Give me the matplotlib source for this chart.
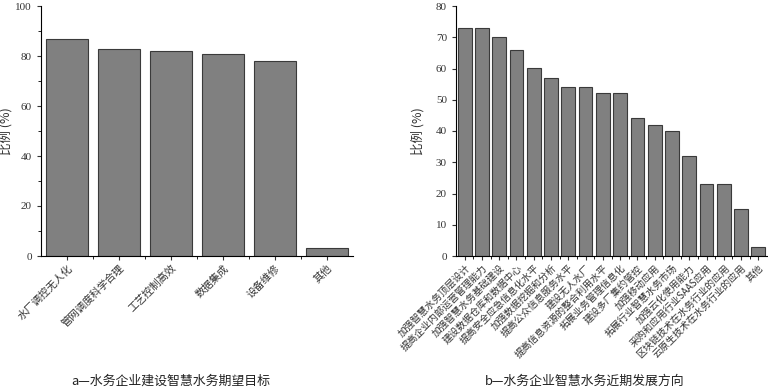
import matplotlib.pyplot as plt
import numpy as np
from matplotlib.ticker import MultipleLocator

plt.rcParams['font.family'] = ['Liberation Serif', 'Noto Sans CJK SC', 'DejaVu Sans']

# data
labels_a = ["水厂调控无人化", "管网调度科学合理", "工艺控制高效", "数据集成", "设备维修", "其他"]
values_a = [87, 83, 82, 81, 78, 3]

labels_b = ["加强智慧水务顶层设计", "提高企业内部运营管理能力", "加强智慧水务基础建设",
            "建设数据仓库和数据中心", "提高安全应急信息化水平", "加强数据挖掘和分析",
            "提高公众信息服务水平", "建设无人水厂", "提高信息资源的整合利用水平",
            "拓展业务管理信息化", "建设多厂集约管控", "加强移动应用",
            "拓展行业智慧水务市场", "加强云化使用能力", "采购和应用行业SAAS应用",
            "区块链技术在水务行业的应用", "云原生技术在水务行业的应用", "其他"]
values_b = [73, 73, 70, 66, 60, 57, 54, 54, 52, 52, 44, 42, 40, 32, 23, 23, 15, 3]

fig = plt.figure(figsize=(7.68, 3.92), dpi=100)
ax1 = fig.add_axes([41/768, 1-256/392, 312/768, 250/392])
ax2 = fig.add_axes([456/768, 1-256/392, 311/768, 250/392])


def style(ax, labels, values, ymax, major, minor, fs):
    x = np.arange(len(values))
    ax.bar(x, values, width=0.8, color='#808080', edgecolor='#3a3a3a', linewidth=0.8)
    ax.set_xlim(-0.5, len(values) - 0.5)
    ax.set_ylim(0, ymax)
    ax.set_xticks(x)
    ax.set_xticklabels(labels, rotation=45, ha='right', rotation_mode='anchor',
                       fontsize=fs, family=['Noto Sans CJK SC'])
    ax.set_xticks(x[:-1] + 0.5, minor=True)
    ax.yaxis.set_major_locator(MultipleLocator(major))
    ax.yaxis.set_minor_locator(MultipleLocator(minor))
    for s in ['top', 'right']:
        ax.spines[s].set_visible(False)
    ax.tick_params(axis='y', labelsize=8, length=3, color='#333333', labelcolor='#333333')
    ax.tick_params(axis='x', length=3, pad=2, color='#333333', labelcolor='#333333')
    ax.tick_params(which='minor', length=2)
    ax.set_ylabel("比例 (%)", fontsize=9, color='#333333', family=['Noto Sans CJK SC'])


style(ax1, labels_a, values_a, 100, 20, 10, 7.5)
style(ax2, labels_b, values_b, 80, 10, 10, 7)
ax1.yaxis.set_label_coords(-0.09, 0.5)
ax2.yaxis.set_label_coords(-0.1, 0.5)

fig.text(171/768, 1-381/392, "a—水务企业建设智慧水务期望目标", ha='center', va='center',
         fontsize=9.3, color='#222222', family=['Noto Sans CJK SC'])
fig.text(585/768, 1-381/392, "b—水务企业智慧水务近期发展方向", ha='center', va='center',
         fontsize=9.3, color='#222222', family=['Noto Sans CJK SC'])

fig.savefig("out.png", dpi=100)
